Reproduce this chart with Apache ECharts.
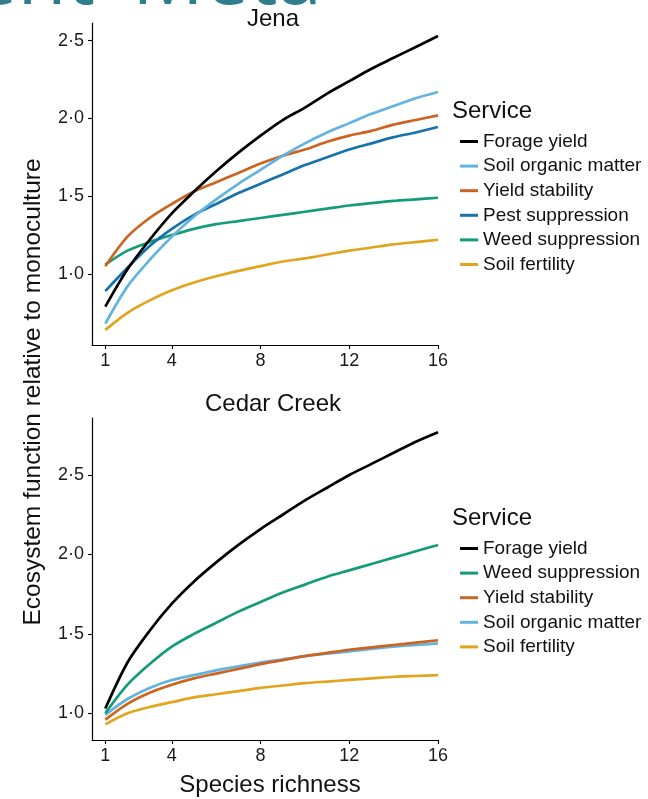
<!DOCTYPE html>
<html>
<head>
<meta charset="utf-8">
<script src="https://cdn.jsdelivr.net/npm/echarts@6/dist/echarts.min.js"></script>
<style>
html,body{margin:0;padding:0;background:#fff;}
#chart{width:648px;height:799px;}
</style>
</head>
<body>
<div id="chart"></div>
<script>
// ---- data (at each species-richness level) ----
const richness = [1, 2, 3, 4, 5, 6, 7, 8, 9, 10, 11, 12, 13, 14, 15, 16];
const xTicks = [1, 4, 8, 12, 16];
const yTicks = [1.0, 1.5, 2.0, 2.5];

const jenaForage    = [0.79, 1.03, 1.22, 1.39, 1.53, 1.66, 1.78, 1.89, 1.99, 2.07, 2.16, 2.24, 2.32, 2.39, 2.46, 2.53];
const jenaSoilOM    = [0.68, 0.92, 1.09, 1.24, 1.37, 1.48, 1.58, 1.67, 1.76, 1.84, 1.91, 1.97, 2.03, 2.08, 2.13, 2.17];
const jenaYieldStab = [1.05, 1.24, 1.36, 1.45, 1.53, 1.59, 1.65, 1.71, 1.76, 1.80, 1.85, 1.89, 1.92, 1.96, 1.99, 2.02];
const jenaPest      = [0.89, 1.04, 1.18, 1.29, 1.38, 1.45, 1.52, 1.58, 1.64, 1.70, 1.75, 1.80, 1.84, 1.88, 1.91, 1.945];
const jenaWeed      = [1.06, 1.15, 1.205, 1.25, 1.29, 1.32, 1.34, 1.36, 1.38, 1.40, 1.42, 1.44, 1.455, 1.47, 1.48, 1.49];
const jenaFert      = [0.64, 0.75, 0.83, 0.895, 0.945, 0.985, 1.02, 1.05, 1.08, 1.10, 1.125, 1.15, 1.17, 1.19, 1.205, 1.22];

const ccForage    = [1.03, 1.32, 1.52, 1.69, 1.83, 1.95, 2.06, 2.16, 2.25, 2.34, 2.42, 2.50, 2.57, 2.64, 2.71, 2.77];
const ccWeed      = [1.00, 1.18, 1.31, 1.42, 1.50, 1.57, 1.64, 1.70, 1.76, 1.81, 1.86, 1.90, 1.94, 1.98, 2.02, 2.06];
const ccYieldStab = [0.96, 1.06, 1.13, 1.18, 1.22, 1.25, 1.28, 1.31, 1.335, 1.36, 1.38, 1.40, 1.415, 1.43, 1.445, 1.46];
const ccSoilOM    = [0.99, 1.09, 1.16, 1.21, 1.24, 1.27, 1.295, 1.32, 1.34, 1.36, 1.375, 1.39, 1.405, 1.42, 1.43, 1.44];
const ccFert      = [0.93, 1.00, 1.04, 1.07, 1.10, 1.12, 1.14, 1.16, 1.175, 1.19, 1.20, 1.21, 1.22, 1.23, 1.235, 1.24];

const jenaLegend = ['Forage yield', 'Soil organic matter', 'Yield stability', 'Pest suppression', 'Weed suppression', 'Soil fertility'];
const ccLegend   = ['Forage yield', 'Weed suppression', 'Yield stability', 'Soil organic matter', 'Soil fertility'];

const colors = {
  'Forage yield': '#000000',
  'Soil organic matter': '#62B3DE',
  'Yield stability': '#CC6420',
  'Pest suppression': '#1572AC',
  'Weed suppression': '#139C77',
  'Soil fertility': '#E0A41E'
};

// ---- chart ----
const FONT = '"Liberation Sans", Arial, Helvetica, sans-serif';
const HEAD_FONT = '"Open Sans", "Noto Sans", sans-serif';
const chart = echarts.init(document.getElementById('chart'), null, {renderer: 'canvas'});

function pairs(arr) { return richness.map((x, i) => [x, arr[i]]); }
function line(name, arr, idx) {
  return {
    name: name, type: 'line', xAxisIndex: idx, yAxisIndex: idx,
    data: pairs(arr), smooth: 0.3, showSymbol: false, symbol: 'none',
    lineStyle: {width: 2.7, color: colors[name]}, itemStyle: {color: colors[name]},
    silent: true, animation: false
  };
}
function fmtY(v) { return v.toFixed(1).replace('.', '\u00b7'); }

function xAxisFor(idx) {
  return {
    type: 'value', gridIndex: idx, min: 0.4, max: 16,
    axisLine: {show: true, lineStyle: {color: '#000', width: 1.2}},
    axisTick: {show: true, length: 4, lineStyle: {color: '#000', width: 1.1}, customValues: xTicks},
    axisLabel: {show: true, customValues: xTicks, fontSize: 18, color: '#1a1a1a', fontFamily: FONT, margin: 7},
    splitLine: {show: false}
  };
}
function yAxisFor(idx, mn, mx) {
  return {
    type: 'value', gridIndex: idx, min: mn, max: mx,
    axisLine: {show: true, lineStyle: {color: '#000', width: 1.2}},
    axisTick: {show: true, length: 4, lineStyle: {color: '#000', width: 1.1}, customValues: yTicks},
    axisLabel: {show: true, customValues: yTicks, formatter: fmtY, fontSize: 18, color: '#1a1a1a', fontFamily: FONT, margin: 8},
    splitLine: {show: false}
  };
}
function legendFor(names, top) {
  return {
    orient: 'vertical', left: 455, top: top,
    data: names.map(n => ({name: n, icon: 'rect'})),
    itemWidth: 18, itemHeight: 3, itemGap: 5.6,
    textStyle: {fontSize: 19, lineHeight: 19, color: '#111', fontFamily: FONT},
    selectedMode: false
  };
}
function headText(text, x, align) {
  return {type: 'text', x: x, y: -59, silent: true,
    style: {text: text, fontSize: 80, fontFamily: HEAD_FONT, fill: '#2E7D8C', align: align, verticalAlign: 'top'}};
}

const option = {
  backgroundColor: '#ffffff',
  animation: false,
  grid: [
    {left: 92, top: 23, width: 346, height: 322},
    {left: 92, top: 418, width: 346, height: 322}
  ],
  xAxis: [xAxisFor(0), xAxisFor(1)],
  yAxis: [yAxisFor(0, 0.543, 2.614), yAxisFor(1, 0.832, 2.859)],
  legend: [legendFor(jenaLegend, 127), legendFor(ccLegend, 534)],
  series: [
    line('Soil fertility', jenaFert, 0),
    line('Weed suppression', jenaWeed, 0),
    line('Pest suppression', jenaPest, 0),
    line('Yield stability', jenaYieldStab, 0),
    line('Soil organic matter', jenaSoilOM, 0),
    line('Forage yield', jenaForage, 0),
    line('Soil fertility', ccFert, 1),
    line('Soil organic matter', ccSoilOM, 1),
    line('Yield stability', ccYieldStab, 1),
    line('Weed suppression', ccWeed, 1),
    line('Forage yield', ccForage, 1)
  ],
  graphic: [
    headText('ment', 95, 'right'),
    headText('-', 110, 'center'),
    headText('Meta', 132, 'left'),
    {type: 'text', x: 273, y: 19, silent: true,
     style: {text: 'Jena', fontSize: 24, fontFamily: FONT, fill: '#111', align: 'center', verticalAlign: 'middle'}},
    {type: 'text', x: 273, y: 404, silent: true,
     style: {text: 'Cedar Creek', fontSize: 24, fontFamily: FONT, fill: '#111', align: 'center', verticalAlign: 'middle'}},
    {type: 'text', x: 452, y: 111, silent: true,
     style: {text: 'Service', fontSize: 24, fontFamily: FONT, fill: '#111', align: 'left', verticalAlign: 'middle'}},
    {type: 'text', x: 452, y: 518, silent: true,
     style: {text: 'Service', fontSize: 24, fontFamily: FONT, fill: '#111', align: 'left', verticalAlign: 'middle'}},
    {type: 'text', x: 270, y: 785, silent: true,
     style: {text: 'Species richness', fontSize: 24, fontFamily: FONT, fill: '#111', align: 'center', verticalAlign: 'middle'}},
    {type: 'text', x: 33, y: 392, rotation: Math.PI / 2, silent: true,
     style: {text: 'Ecosystem function relative to monoculture', fontSize: 24.5, fontFamily: FONT, fill: '#111', align: 'center', verticalAlign: 'middle'}}
  ]
};
chart.setOption(option);
</script>
</body>
</html>
